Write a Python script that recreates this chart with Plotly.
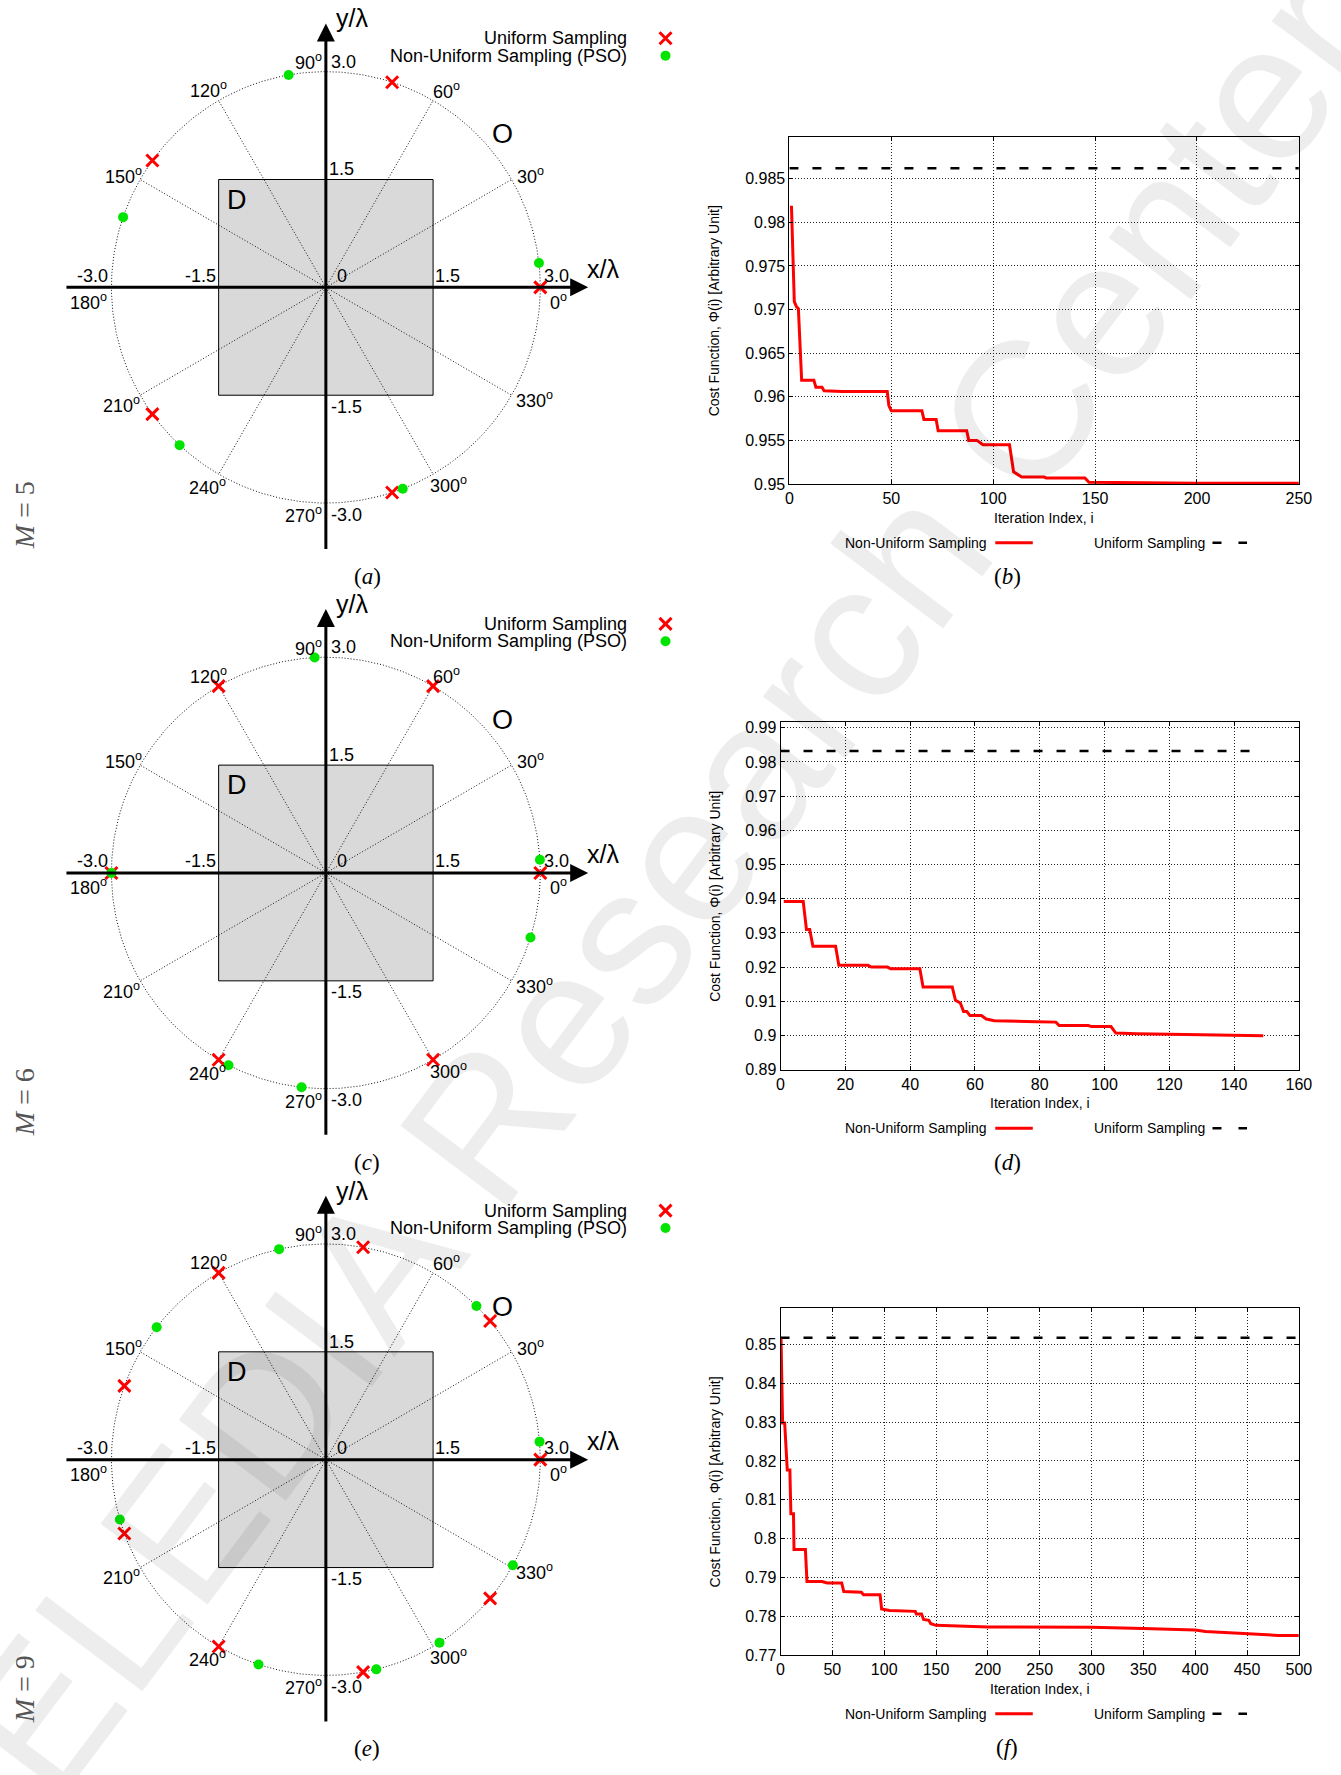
import numpy as np
import plotly.graph_objects as go

W, H = 1341, 1775

# ---------------- data ----------------
M_VALUES = [5, 6, 9]
UNIFORM_ANGLES_M5 = [0, 72, 144, 216, 288]
UNIFORM_ANGLES_M6 = [0, 60, 120, 180, 240, 300]
UNIFORM_ANGLES_M9 = [0, 40, 80, 120, 160, 200, 240, 280, 320]
PSO_ANGLES_M5 = [6.5, 100.0, 161.0, 227.0, 291.0]
PSO_ANGLES_M6 = [3.5, 93.0, 180.0, 243.0, 263.5, 342.6]
PSO_ANGLES_M9 = [4.8, 45.4, 102.6, 142.1, 196.1, 251.7, 283.6, 302.0, 330.7]
OBS_RADIUS = 3.0
DOMAIN_HALF = 1.5
GEO_TICKS = ["-3.0", "-1.5", "0", "1.5", "3.0"]
ANGLE_TICKS = [0, 30, 60, 90, 120, 150, 180, 210, 240, 270, 300, 330]

ITER_B = [1, 2.4, 3.5, 4.4, 6, 12, 13, 16, 17, 26, 48, 48.8, 50, 65, 66, 72, 73, 87, 88, 92, 95,
          108, 110, 112, 114, 125, 126, 145, 147, 200, 250]
COST_B = [0.9819, 0.9709, 0.9703, 0.9701, 0.9619, 0.9619, 0.9611, 0.9611, 0.9607, 0.9606, 0.9606,
          0.9590, 0.9584, 0.9584, 0.9574, 0.9574, 0.9561, 0.9561, 0.9550, 0.9550, 0.9545,
          0.9545, 0.9514, 0.9511, 0.9508, 0.9508, 0.9507, 0.9507, 0.9502, 0.9501, 0.9501]
UNIFORM_B = 0.9862
UNIFORM_X_B = [0, 250]

ITER_D = [1, 7, 8, 9, 10, 17, 18, 27, 28, 33, 34, 43, 44, 53, 54, 55.5, 56.5, 57.5, 58.5, 62, 63.5,
          66, 79, 85, 86, 95, 96, 102, 103.5, 110, 125, 135, 145, 149]
COST_D = [0.9392, 0.9392, 0.9310, 0.9310, 0.9261, 0.9261, 0.9205, 0.9205, 0.9200, 0.9200, 0.9195,
          0.9195, 0.9142, 0.9142, 0.9103, 0.9095, 0.9070, 0.9070, 0.9058, 0.9058, 0.9048,
          0.9043, 0.9040, 0.9039, 0.9029, 0.9029, 0.9026, 0.9026, 0.9007, 0.9005, 0.9003,
          0.9001, 0.8999, 0.8999]
UNIFORM_D = 0.9832
UNIFORM_X_D = [0, 148]

ITER_F = [0.5, 2, 4, 5, 6.5, 9, 10, 12.5, 13, 24, 25.5, 40, 45, 59, 61, 78, 80, 96, 97.5, 105, 130,
          131, 136, 138, 143, 145, 150, 200, 300, 350, 400, 410, 440, 460, 480, 500]
COST_F = [0.8515, 0.8298, 0.8298, 0.8247, 0.8177, 0.8177, 0.8064, 0.8064, 0.7972, 0.7972, 0.7890,
          0.7890, 0.7886, 0.7886, 0.7864, 0.7862, 0.7856, 0.7856, 0.7819, 0.7815, 0.7813,
          0.7806, 0.7806, 0.7792, 0.7790, 0.7781, 0.7777, 0.7773, 0.7772, 0.7769, 0.7765,
          0.7761, 0.7757, 0.7754, 0.7751, 0.7751]
UNIFORM_F = 0.8517
UNIFORM_X_F = [0, 500]

X_TICKS_B = [0, 50, 100, 150, 200, 250]
Y_TICKS_B = [0.95, 0.955, 0.96, 0.965, 0.97, 0.975, 0.98, 0.985]
X_TICKS_D = [0, 20, 40, 60, 80, 100, 120, 140, 160]
Y_TICKS_D = [0.89, 0.9, 0.91, 0.92, 0.93, 0.94, 0.95, 0.96, 0.97, 0.98, 0.99]
X_TICKS_F = [0, 50, 100, 150, 200, 250, 300, 350, 400, 450, 500]
Y_TICKS_F = [0.77, 0.78, 0.79, 0.8, 0.81, 0.82, 0.83, 0.84, 0.85]

WATERMARK = "ELEDIA Research Center"

# ---------------- styling / layout helpers ----------------
SANS = "Liberation Sans, Arial, sans-serif"
SERIF = "Liberation Serif, Times New Roman, serif"
S = 72.4          # px per lambda in geometry panels
OX = 326.0        # origin x (px)
GEO_HALF_H = 285  # half height of geometry panel (px)
GEO_RIGHT = 700
DOT = "1px,2px"

fig = go.Figure()
layout = dict(width=W, height=H, margin=dict(l=0, r=0, t=0, b=0),
              paper_bgcolor="white", plot_bgcolor="rgba(0,0,0,0)",
              showlegend=False, font=dict(family=SANS, color="black"))
annotations = []
shapes = []


def names(i):
    return ("x", "y", "xaxis", "yaxis") if i == 1 else (f"x{i}", f"y{i}", f"xaxis{i}", f"yaxis{i}")


def pax(px):
    return px / W


def pay(py):
    return 1 - py / H


def ann(**kw):
    kw.setdefault("showarrow", False)
    kw.setdefault("xanchor", "center")
    kw.setdefault("yanchor", "middle")
    annotations.append(kw)


def ang_xy(angles, r=OBS_RADIUS):
    a = np.deg2rad(np.asarray(angles, dtype=float))
    return r * np.cos(a), r * np.sin(a)


# faint watermark (drawn first)
ann(x=pax(670), y=pay(887), xref="paper", yref="paper", text=WATERMARK, textangle=-53,
    font=dict(family=SANS, size=195, color="rgba(0,0,0,0.07)"))

# angle label centres (in lambda units)
ANGLE_LABEL_POS = {0: (3.25, -0.19), 30: (2.86, 1.56), 60: (1.69, 2.74), 90: (-0.25, 3.14),
                   120: (-1.64, 2.75), 150: (-2.83, 1.56), 180: (-3.32, -0.19), 210: (-2.86, -1.63),
                   240: (-1.66, -2.77), 270: (-0.31, -3.16), 300: (1.72, -2.74), 330: (2.92, -1.56)}
X_TICK_POS = [(-3.27, 0.16), (-1.75, 0.16), (0.22, 0.16), (1.70, 0.16), (3.22, 0.16)]
Y_TICK_POS = {"3.0": (0.25, 3.14), "1.5": (0.22, 1.64), "-1.5": (0.29, -1.66), "-3.0": (0.29, -3.16)}


def geo_panel(i, oy, m, uni, pso, cap, m_label_y):
    xr, yr, xk, yk = names(i)
    top, bot = oy - GEO_HALF_H, oy + GEO_HALF_H
    layout[xk] = dict(domain=[0, pax(GEO_RIGHT)], range=[-OX / S, (GEO_RIGHT - OX) / S],
                      visible=False, anchor=yr, fixedrange=True)
    layout[yk] = dict(domain=[pay(bot), pay(top)], range=[-GEO_HALF_H / S, GEO_HALF_H / S],
                      visible=False, anchor=xr, fixedrange=True)
    # investigation domain D
    shapes.append(dict(type="rect", xref=xr, yref=yr, x0=-DOMAIN_HALF, x1=DOMAIN_HALF,
                       y0=-DOMAIN_HALF, y1=DOMAIN_HALF, fillcolor="#d9d9d9",
                       line=dict(color="black", width=1), layer="below"))
    # observation circle
    t = np.linspace(0, 2 * np.pi, 721)
    fig.add_trace(go.Scatter(x=OBS_RADIUS * np.cos(t), y=OBS_RADIUS * np.sin(t), mode="lines",
                             line=dict(color="#111", width=1, dash=DOT), xaxis=xr, yaxis=yr,
                             hoverinfo="skip"))
    # radial lines
    rx, ry = [], []
    for a in ANGLE_TICKS:
        if a % 90 == 0:
            continue
        cx, cy = ang_xy([a])
        rx += [0, cx[0], None]
        ry += [0, cy[0], None]
    fig.add_trace(go.Scatter(x=rx, y=ry, mode="lines", line=dict(color="#111", width=1, dash=DOT),
                             xaxis=xr, yaxis=yr, hoverinfo="skip"))
    # axes with arrows
    annotations.append(dict(x=3.67, y=0, ax=-3.65, ay=0, xref=xr, yref=yr, axref=xr, ayref=yr,
                            showarrow=True, arrowhead=2, arrowsize=1.2, arrowwidth=3,
                            arrowcolor="black", text=""))
    annotations.append(dict(x=0, y=3.67, ax=0, ay=-3.66, xref=xr, yref=yr, axref=xr, ayref=yr,
                            showarrow=True, arrowhead=2, arrowsize=1.2, arrowwidth=3,
                            arrowcolor="black", text=""))
    # markers
    ux, uy = ang_xy(uni)
    fig.add_trace(go.Scatter(x=ux, y=uy, mode="markers", xaxis=xr, yaxis=yr,
                             marker=dict(symbol="x-thin", size=12, line=dict(color="#ff0000", width=3)),
                             cliponaxis=False))
    gx, gy = ang_xy(pso)
    fig.add_trace(go.Scatter(x=gx, y=gy, mode="markers", xaxis=xr, yaxis=yr,
                             marker=dict(symbol="circle", size=10, color="#00e400"),
                             cliponaxis=False))
    # labels
    f18 = dict(family=SANS, size=18, color="black")
    for (tx, ty), lab in zip(X_TICK_POS, GEO_TICKS):
        ann(x=tx, y=ty, xref=xr, yref=yr, text=lab, font=f18)
    for lab, (tx, ty) in Y_TICK_POS.items():
        ann(x=tx, y=ty, xref=xr, yref=yr, text=lab, font=f18)
    for a in ANGLE_TICKS:
        tx, ty = ANGLE_LABEL_POS[a]
        ann(x=tx, y=ty, xref=xr, yref=yr, text=f"{a}<sup>o</sup>", font=f18)
    f25 = dict(family=SANS, size=25, color="black")
    ann(x=3.87, y=0.26, xref=xr, yref=yr, text="x/λ", font=f25)
    ann(x=0.36, y=3.74, xref=xr, yref=yr, text="y/λ", font=f25)
    ann(x=-1.24, y=1.22, xref=xr, yref=yr, text="D", font=dict(family=SANS, size=27, color="black"))
    ann(x=2.47, y=2.13, xref=xr, yref=yr, text="O", font=dict(family=SANS, size=27, color="black"))
    # legend
    f18l = dict(family=SANS, size=18, color="black")
    y1 = (286.3 - 35.5) / S
    y2 = (286.3 - 53.0) / S
    xt = (633.0 - OX) / S
    xm = (670.0 - OX) / S
    ann(x=xt, y=y1, xref=xr, yref=yr, xanchor="right", text="Uniform Sampling", font=f18l)
    ann(x=xt, y=y2, xref=xr, yref=yr, xanchor="right", text="Non-Uniform Sampling (PSO)", font=f18l)
    fig.add_trace(go.Scatter(x=[xm], y=[y1], mode="markers", xaxis=xr, yaxis=yr, cliponaxis=False,
                             marker=dict(symbol="x-thin", size=12, line=dict(color="#ff0000", width=3))))
    fig.add_trace(go.Scatter(x=[xm], y=[y2], mode="markers", xaxis=xr, yaxis=yr, cliponaxis=False,
                             marker=dict(symbol="circle", size=10, color="#00e400")))
    # captions
    ann(x=pax(368), y=pay(oy + 291), xref="paper", yref="paper", text=f"(<i>{cap}</i>)",
        font=dict(family=SERIF, size=23, color="black"))
    ann(x=pax(21), y=pay(m_label_y), xref="paper", yref="paper", text=f"<i>M</i> = {m}",
        textangle=-90, font=dict(family=SERIF, size=28, color="#555"))


def cost_panel(i, x0, x1, top, bot, xrng, yrng, xt, yt, iters, costs, uy, ux, cap):
    xr, yr, xk, yk = names(i)
    axis_common = dict(showline=True, linecolor="black", linewidth=1, mirror="ticks",
                       ticks="inside", ticklen=4, tickcolor="black", showgrid=True,
                       gridcolor="#222", griddash=DOT, gridwidth=1, zeroline=False,
                       tickfont=dict(family=SANS, size=16, color="black"), fixedrange=True)
    layout[xk] = dict(domain=[pax(x0), pax(x1)], range=xrng, anchor=yr, tickvals=xt,
                      ticktext=[f"{v:g}" for v in xt], **axis_common)
    layout[yk] = dict(domain=[pay(bot), pay(top)], range=yrng, anchor=xr, tickvals=yt,
                      ticktext=[f"{v:g}" for v in yt], **axis_common)
    fig.add_trace(go.Scatter(x=ux, y=[uy] * len(ux), mode="lines", xaxis=xr, yaxis=yr,
                             line=dict(color="black", width=2.5, dash="9px,14px")))
    fig.add_trace(go.Scatter(x=iters, y=costs, mode="lines", xaxis=xr, yaxis=yr,
                             line=dict(color="#ff0000", width=3)))
    cx = (x0 + x1) / 2
    f14 = dict(family=SANS, size=14, color="black")
    ann(x=pax(720), y=pay((top + bot) / 2), xref="paper", yref="paper",
        text="Cost Function, Φ(i) [Arbitrary Unit]", textangle=-90, font=f14)
    ann(x=pax(cx), y=pay(bot + 34), xref="paper", yref="paper", text="Iteration Index, i", font=f14)
    ly = bot + 59
    ann(x=pax(998), y=pay(ly), xref="paper", yref="paper", xanchor="right",
        text="Non-Uniform Sampling", font=f14)
    shapes.append(dict(type="line", xref="paper", yref="paper", x0=pax(1004), x1=pax(1042),
                       y0=pay(ly), y1=pay(ly), line=dict(color="#ff0000", width=3)))
    ann(x=pax(1218), y=pay(ly), xref="paper", yref="paper", xanchor="right",
        text="Uniform Sampling", font=f14)
    shapes.append(dict(type="line", xref="paper", yref="paper", x0=pax(1224), x1=pax(1259),
                       y0=pay(ly), y1=pay(ly), line=dict(color="black", width=2.5, dash="9px,17px")))
    ann(x=pax(1016), y=pay(bot + 93), xref="paper", yref="paper", text=f"(<i>{cap}</i>)",
        font=dict(family=SERIF, size=23, color="black"))


geo_panel(1, 286.3, M_VALUES[0], UNIFORM_ANGLES_M5, PSO_ANGLES_M5, "a", 516)
cost_panel(2, 795.5, 1311.5, 134.7, 484.3, [0, 250], [0.95, 0.9898], X_TICKS_B, Y_TICKS_B,
           ITER_B, COST_B, UNIFORM_B, UNIFORM_X_B, "b")
geo_panel(3, 875.9, M_VALUES[1], UNIFORM_ANGLES_M6, PSO_ANGLES_M6, "c", 1107)
cost_panel(4, 786.5, 1311.5, 724.2, 1073.9, [0, 160], [0.89, 0.9916], X_TICKS_D, Y_TICKS_D,
           ITER_D, COST_D, UNIFORM_D, UNIFORM_X_D, "d")
geo_panel(5, 1466.6, M_VALUES[2], UNIFORM_ANGLES_M9, PSO_ANGLES_M9, "e", 1698)
cost_panel(6, 786.5, 1311.5, 1313.8, 1663.5, [0, 500], [0.77, 0.8594], X_TICKS_F, Y_TICKS_F,
           ITER_F, COST_F, UNIFORM_F, UNIFORM_X_F, "f")

layout["annotations"] = annotations
layout["shapes"] = shapes
fig.update_layout(**layout)

POST_JS = (
    "var gd = document.getElementById('{plot_id}');"
    "document.documentElement.style.margin = '0px';"
    "document.body.style.margin = '0px';"
    "document.documentElement.style.overflow = 'hidden';"
    "document.body.style.overflow = 'hidden';"
    "gd.style.position = 'fixed'; gd.style.left = '0px'; gd.style.top = '0px';"
    "var u = new Object(); u.width = window.innerWidth; u.height = window.innerHeight;"
    "if (u.width > 0 && u.height > 0 && (u.width !== 1341 || u.height !== 1775)) Plotly.relayout(gd, u);"
)
fig.write_html("out.html", config={"displayModeBar": False}, post_script=POST_JS)
